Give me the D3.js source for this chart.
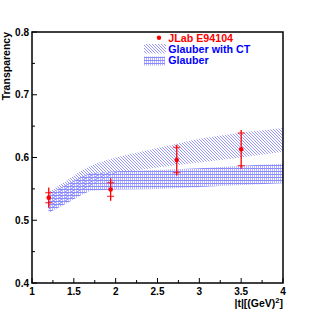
<!DOCTYPE html>
<html>
<head>
<meta charset="utf-8">
<script src="https://cdn.jsdelivr.net/npm/d3@7"></script>
<style>
  html, body { margin: 0; padding: 0; background: #fff; }
  svg { display: block; font-family: "Liberation Sans", Arial, sans-serif; font-weight: bold; }
</style>
</head>
<body>
<svg id="chart" width="315" height="315"></svg>
<script>
// data points (JLab E94104)
var tVals = [1.2, 1.94, 2.73, 3.5];
var trans = [0.536, 0.549, 0.596, 0.613];
var statErr = [0.008, 0.011, 0.020, 0.026];
var totErr = [0.016, 0.018, 0.0245, 0.031];

// theory bands
var bandT = [1.2, 1.4, 1.6, 1.7, 1.8, 2.0, 2.5, 3.0, 3.5, 4.0];
var glauberLo = [0.512, 0.526, 0.541, 0.547, 0.548, 0.549, 0.550, 0.553, 0.556, 0.559];
var glauberHi = [0.542, 0.556, 0.570, 0.575, 0.576, 0.578, 0.580, 0.583, 0.587, 0.590];
var ctLo = [0.514, 0.530, 0.546, 0.555, 0.563, 0.575, 0.584, 0.592, 0.600, 0.609];
var ctHi = [0.545, 0.562, 0.580, 0.587, 0.592, 0.600, 0.615, 0.630, 0.640, 0.647];

var xTicks = [1, 1.5, 2, 2.5, 3, 3.5, 4];
var yTicks = [0.4, 0.5, 0.6, 0.7, 0.8];
var legendLabels = ["JLab E94104", "Glauber with CT", "Glauber"];

var svg = d3.select("#chart");
var L = 32, R = 283, T = 32, B = 283;
var x = d3.scaleLinear().domain([1, 4]).range([L, R]);
var y = d3.scaleLinear().domain([0.4, 0.8]).range([B, T]);

// ---- hatch patterns ----
var defs = svg.append("defs");
var diag = defs.append("pattern").attr("id", "diag").attr("patternUnits", "userSpaceOnUse").attr("width", 3).attr("height", 3);
diag.append("path").attr("d", "M0,0L3,3M-1,2L1,4M2,-1L4,1").attr("stroke", "#7c7cff").attr("stroke-width", 0.8).attr("fill", "none");
var grid = defs.append("pattern").attr("id", "grid").attr("patternUnits", "userSpaceOnUse").attr("width", 2).attr("height", 3);
grid.append("rect").attr("x", 0).attr("y", 0).attr("width", 2).attr("height", 1).attr("fill", "#8a8aff");
grid.append("rect").attr("x", 0).attr("y", 1).attr("width", 1).attr("height", 2).attr("fill", "#b4b4ff");
defs.append("clipPath").attr("id", "frame").append("rect").attr("x", L).attr("y", T).attr("width", R - L).attr("height", B - T);

// ---- bands ----
function band(lo, hi) {
  return d3.area().x(function (d, i) { return x(bandT[i]); })
    .y0(function (d, i) { return y(lo[i]); }).y1(function (d, i) { return y(hi[i]); })(bandT);
}
var plot = svg.append("g").attr("clip-path", "url(#frame)");
plot.append("path").attr("d", band(ctLo, ctHi)).attr("fill", "url(#diag)");
plot.append("path").attr("d", band(glauberLo, glauberHi)).attr("fill", "url(#grid)");

// ---- data points ----
tVals.forEach(function (t, i) {
  var cx = x(t);
  plot.append("line").attr("x1", cx).attr("x2", cx).attr("y1", y(trans[i] - totErr[i])).attr("y2", y(trans[i] + totErr[i]))
    .attr("stroke", "#ff0000").attr("stroke-width", 1.3);
  [-1, 1].forEach(function (s) {
    var cy = y(trans[i] + s * statErr[i]);
    plot.append("line").attr("x1", cx - 3.5).attr("x2", cx + 3.5).attr("y1", cy).attr("y2", cy)
      .attr("stroke", "#ff0000").attr("stroke-opacity", 0.7).attr("stroke-width", 1.4);
  });
  plot.append("circle").attr("cx", cx).attr("cy", y(trans[i])).attr("r", 2.3).attr("fill", "#ff0000");
});

// ---- axes ----
var xMinor = d3.range(1, 4.01, 0.25), yMinor = d3.range(0.4, 0.801, 0.05);
xMinor.forEach(function (v) {
  var major = Math.abs(v * 2 - Math.round(v * 2)) < 1e-6;
  svg.append("line").attr("x1", x(v)).attr("x2", x(v)).attr("y1", B).attr("y2", B - (major ? 5 : 3)).attr("stroke", "#000").attr("stroke-width", 1);
});
yMinor.forEach(function (v) {
  var major = Math.abs(v * 10 - Math.round(v * 10)) < 1e-6;
  svg.append("line").attr("x1", L).attr("x2", L + (major ? 5 : 3)).attr("y1", y(v)).attr("y2", y(v)).attr("stroke", "#000").attr("stroke-width", 1);
});
svg.append("rect").attr("x", L).attr("y", T).attr("width", R - L).attr("height", B - T)
  .attr("fill", "none").attr("stroke", "#000").attr("stroke-width", 1.5);

svg.selectAll(".xl").data(xTicks).enter().append("text").attr("x", function (d) { return x(d); }).attr("y", 294.5)
  .attr("text-anchor", "middle").attr("font-size", 10).text(function (d) { return d; });
svg.selectAll(".yl").data(yTicks).enter().append("text").attr("x", 29).attr("y", function (d) { return y(d) + 3.6; })
  .attr("text-anchor", "end").attr("font-size", 10).text(function (d) { return d.toFixed(1); });

svg.append("text").attr("transform", "translate(9.5," + T + ") rotate(-90)").attr("text-anchor", "end")
  .attr("font-size", 10.5).text("Transparency");
var xt = svg.append("text").attr("x", R).attr("y", 306.5).attr("text-anchor", "end").attr("font-size", 10.5);
xt.append("tspan").text("|t|[(GeV)");
xt.append("tspan").attr("dy", -4).attr("font-size", 7.5).text("2");
xt.append("tspan").attr("dy", 4).text("]");

// ---- legend ----
svg.append("circle").attr("cx", 159).attr("cy", 37.7).attr("r", 2.2).attr("fill", "#ff0000");
svg.append("rect").attr("x", 144).attr("y", 44).attr("width", 22).attr("height", 9.5).attr("fill", "url(#diag)");
svg.append("rect").attr("x", 144).attr("y", 56.5).attr("width", 21).attr("height", 9).attr("fill", "url(#grid)");
var legColors = ["#ff0000", "#0000ff", "#0000ff"], legY = [41.7, 53.3, 64.2];
legendLabels.forEach(function (s, i) {
  svg.append("text").attr("x", 168.3).attr("y", legY[i]).attr("font-size", 10.7).attr("fill", legColors[i]).text(s);
});
</script>
</body>
</html>
